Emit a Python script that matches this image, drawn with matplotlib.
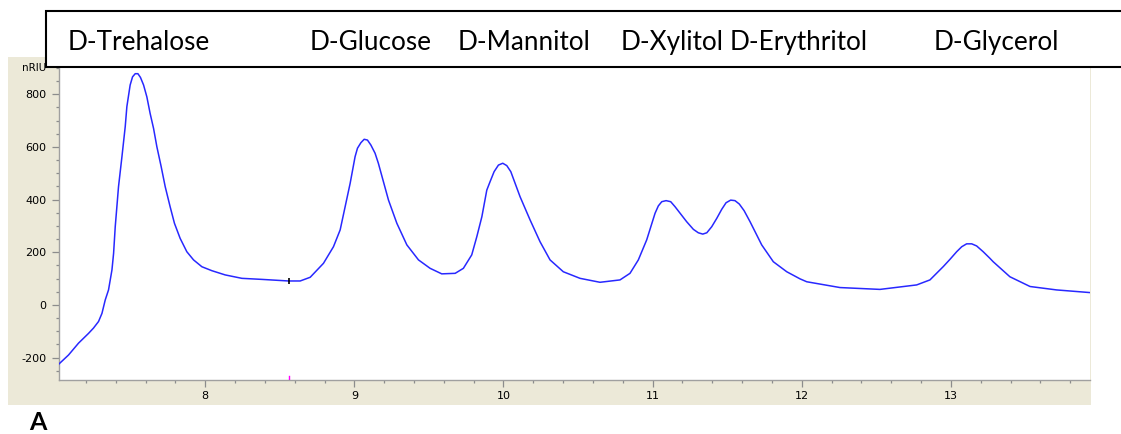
import matplotlib
matplotlib.use("Agg")
import matplotlib.pyplot as plt
from matplotlib.patches import Rectangle
from matplotlib.ticker import MultipleLocator, FixedLocator

# Retention time (min) and refractive-index signal (nRIU)
time = [7.02, 7.084, 7.151, 7.218, 7.251, 7.285, 7.308, 7.330, 7.352, 7.375,
        7.386, 7.397, 7.408, 7.419, 7.442, 7.464, 7.475, 7.497, 7.513, 7.531,
        7.549, 7.566, 7.587, 7.609, 7.631, 7.654, 7.676, 7.705, 7.732, 7.765,
        7.794, 7.832, 7.877, 7.922, 7.978, 8.045, 8.134, 8.246, 8.38, 8.558,
        8.637, 8.704, 8.793, 8.86, 8.905, 8.938, 8.972, 9.005, 9.021, 9.044,
        9.066, 9.088, 9.111, 9.139, 9.161, 9.229, 9.285, 9.352, 9.43, 9.508,
        9.586, 9.676, 9.731, 9.787, 9.821, 9.855, 9.888, 9.91, 9.937, 9.966,
        9.995, 10.022, 10.049, 10.078, 10.111, 10.178, 10.245, 10.312, 10.401, 10.513,
        10.647, 10.781, 10.848, 10.904, 10.96, 11.016, 11.038, 11.061, 11.090, 11.121,
        11.15, 11.184, 11.228, 11.273, 11.306, 11.336, 11.363, 11.396, 11.43, 11.463,
        11.492, 11.523, 11.552, 11.581, 11.613, 11.653, 11.731, 11.809, 11.899, 11.988,
        12.033, 12.256, 12.524, 12.77, 12.859, 12.949, 12.993, 13.038, 13.072, 13.105,
        13.139, 13.172, 13.216, 13.261, 13.283, 13.395, 13.53, 13.708, 13.93]
signal = [-224, -190, -145, -108, -88, -63, -32, 19, 57, 133,
          196, 297, 373, 449, 563, 677, 753, 835, 866, 878,
          878, 864, 835, 790, 727, 670, 601, 525, 449, 373,
          310, 253, 202, 171, 145, 130, 114, 101, 97, 91,
          91, 105, 158, 221, 285, 373, 462, 563, 595, 616,
          629, 626, 607, 576, 538, 398, 310, 228, 171, 139,
          118, 120, 139, 190, 259, 335, 436, 468, 506, 531,
          538, 529, 506, 462, 411, 323, 240, 171, 126, 101,
          86, 95, 120, 171, 247, 348, 376, 392, 396, 392,
          373, 348, 316, 287, 274, 269, 274, 297, 329, 363,
          388, 398, 396, 383, 358, 316, 228, 164, 126, 99,
          88, 66, 59, 76, 95, 146, 173, 202, 221, 232,
          232, 224, 202, 177, 164, 107, 70, 57, 47]

x_ticks = [8, 9, 10, 11, 12, 13]
y_ticks = [-200, 0, 200, 400, 600, 800]

# Compound names and the left edge (px) of each name in the header strip
compounds = ["D-Trehalose", "D-Glucose", "D-Mannitol", "D-Xylitol", "D-Erythritol", "D-Glycerol"]
name_x = [68, 310, 458, 621, 730, 934]

W, H = 1121, 434
fig = plt.figure(figsize=(W / 100, H / 100), dpi=100)
fig.patch.set_facecolor("white")

def fx(px):
    return px / W

def fy(py):
    return 1 - py / H

# Instrument-window grey panel behind the chromatogram
fig.patches.append(Rectangle((fx(8), fy(405)), (1091 - 8) / W, (405 - 57) / H,
                             transform=fig.transFigure, facecolor="#ECE9D8",
                             edgecolor="none", zorder=-1))

ax = fig.add_axes([fx(59), fy(380), (1090 - 59) / W, (380 - 60) / H])
ax.set_facecolor("white")
ax.plot(time, signal, color="#2828FF", lw=1.1, zorder=3)

# baseline marker and event tick
ax.plot([8.56], [91], marker="|", color="black", ms=5, mew=1.2, zorder=4)
ax.plot([8.563, 8.563], [-284, -270], color="#FF00FF", lw=1.0, zorder=4)

ax.set_xlim(7.02, 13.932)
ax.set_ylim(-285, 930)

ax.xaxis.set_major_locator(FixedLocator(x_ticks))
ax.xaxis.set_minor_locator(MultipleLocator(0.2))
ax.yaxis.set_major_locator(FixedLocator(y_ticks))
ax.yaxis.set_minor_locator(MultipleLocator(50))
ax.set_xticklabels([str(v) for v in x_ticks])
ax.set_yticklabels([str(v) for v in y_ticks])

tick_col = "#8C8C8C"
ax.tick_params(which="major", direction="out", length=5, width=0.9, color=tick_col,
               labelsize=8, labelcolor="black")
ax.tick_params(which="minor", direction="out", length=2.5, width=0.9, color=tick_col)
ax.tick_params(axis="x", which="major", pad=3)
ax.tick_params(axis="y", which="major", pad=4)

for side in ("top", "right"):
    ax.spines[side].set_visible(False)
for side in ("left", "bottom"):
    ax.spines[side].set_color("#A0A0A0")
    ax.spines[side].set_linewidth(1.0)

fig.text(fx(46), fy(68), "nRIU", ha="right", va="center", fontsize=7.5)

# Header strip with peak names
fig.patches.append(Rectangle((fx(46), fy(67)), (1130 - 46) / W, (67 - 11) / H,
                             transform=fig.transFigure, facecolor="white",
                             edgecolor="black", lw=1.5, zorder=5))
for name, px in zip(compounds, name_x):
    fig.text(fx(px), fy(50), name, ha="left", va="baseline", fontsize=18.8,
             family="Lato", zorder=6)

fig.text(fx(29), fy(430), "A", ha="left", va="baseline", fontsize=18,
         family="Lato", weight="bold")

fig.savefig("out.png", dpi=100)
